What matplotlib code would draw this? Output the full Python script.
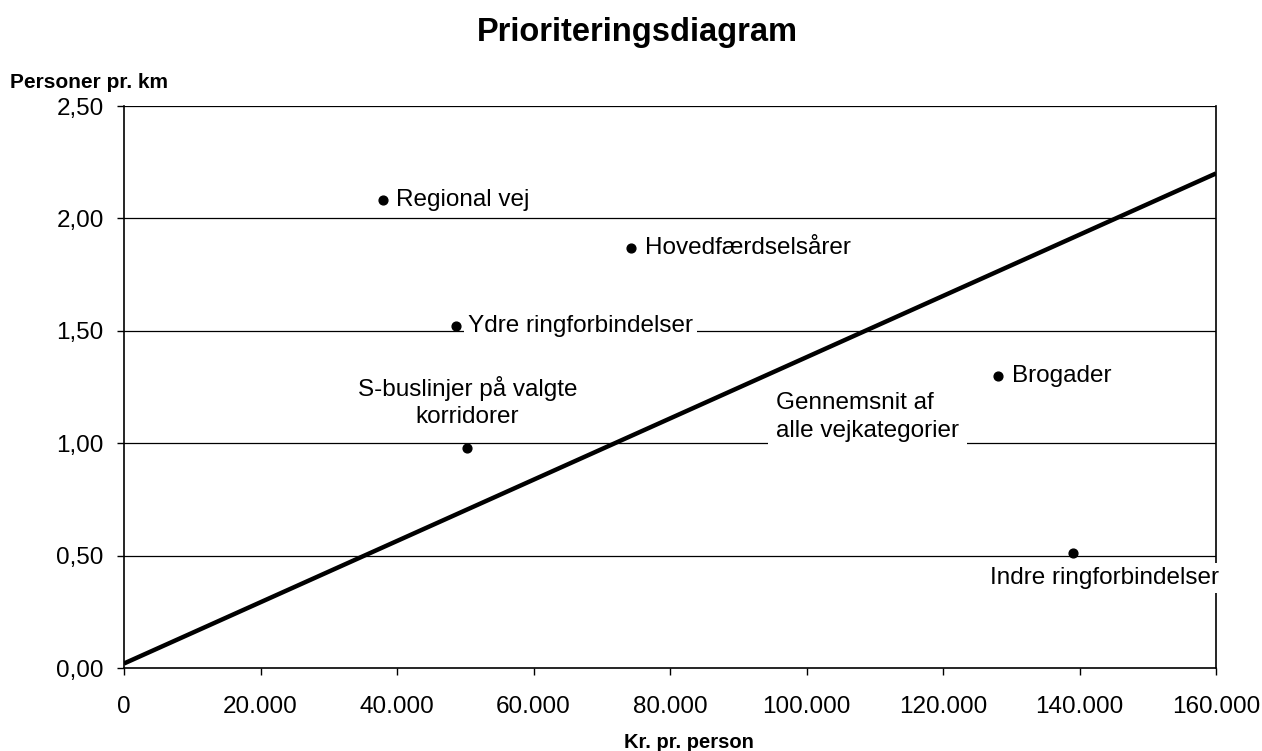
import matplotlib
matplotlib.use("Agg")
import matplotlib.pyplot as plt
from matplotlib.ticker import FixedLocator

plt.rcParams['font.family'] = ['Liberation Sans', 'DejaVu Sans']

# Data
categories = ["Regional vej", "Hovedfærdselsårer", "Ydre ringforbindelser",
              "S-buslinjer på valgte\nkorridorer", "Brogader", "Indre ringforbindelser"]
kr_per_person = [38000, 74300, 48600, 50300, 128100, 139000]
personer_per_km = [2.08, 1.87, 1.52, 0.98, 1.30, 0.51]

avg_x = [0, 160000]
avg_y = [0.02, 2.20]
avg_label = "Gennemsnit af\nalle vejkategorier"
avg_label_pos = (95500, 1.115)

x_ticks = [0, 20000, 40000, 60000, 80000, 100000, 120000, 140000, 160000]
x_ticklabels = ["0", "20.000", "40.000", "60.000", "80.000", "100.000", "120.000", "140.000", "160.000"]
y_ticks = [0.0, 0.5, 1.0, 1.5, 2.0, 2.5]
y_ticklabels = ["0,00", "0,50", "1,00", "1,50", "2,00", "2,50"]

fig = plt.figure(figsize=(12.62, 7.51), dpi=100)
ax = fig.add_axes([124/1262, 83/751, (1216-124)/1262, (668-106)/751])

ax.set_xlim(0, 160000)
ax.set_ylim(0, 2.5)

for yv in y_ticks[1:]:
    ax.axhline(yv, color='black', lw=0.9, zorder=1)

ax.plot(avg_x, avg_y, color='black', lw=3.2, zorder=3, solid_capstyle='butt')

ax.scatter(kr_per_person, personer_per_km, s=40, color='black', zorder=5)

bbox = dict(facecolor='white', edgecolor='none', pad=3)
# label placements (offset in points, alignment)
placements = [
    ((9, 0), 'left', 'center'),
    ((10, 0), 'left', 'center'),
    ((9, 0), 'left', 'center'),
    ((0, 33), 'center', 'center'),
    ((10, 0), 'left', 'center'),
    ((23, -18), 'center', 'center'),
]
for name, x, y, (off, ha, va) in zip(categories, kr_per_person, personer_per_km, placements):
    ax.annotate(name, (x, y), xytext=off, textcoords='offset points',
                ha=ha, va=va, fontsize=17.5, bbox=bbox, zorder=4,
                linespacing=1.28, clip_on=False)

ax.annotate(avg_label, avg_label_pos, ha='left', va='center', fontsize=17.5,
            bbox=dict(facecolor='white', edgecolor='none', pad=6), zorder=2,
            linespacing=1.36)

ax.xaxis.set_major_locator(FixedLocator(x_ticks))
ax.set_xticklabels(x_ticklabels)
ax.yaxis.set_major_locator(FixedLocator(y_ticks))
ax.set_yticklabels(y_ticklabels)
ax.tick_params(axis='both', direction='out', length=5, width=1, labelsize=17.5, color='black')
ax.tick_params(axis='x', pad=15)
ax.tick_params(axis='y', pad=9.5)

for s in ['left', 'bottom', 'right']:
    ax.spines[s].set_linewidth(1.2)
ax.spines['top'].set_visible(False)

fig.text(637/1262, 1 - 32/751, "Prioriteringsdiagram", ha='center', va='center',
         fontsize=23.5, fontweight='bold')
fig.text(10/1262, 1 - 82/751, "Personer pr. km", ha='left', va='center',
         fontsize=15, fontweight='bold')
fig.text(689/1262, 1 - 742/751, "Kr. pr. person", ha='center', va='center',
         fontsize=14.5, fontweight='bold')

fig.savefig("out.png", dpi=100)
